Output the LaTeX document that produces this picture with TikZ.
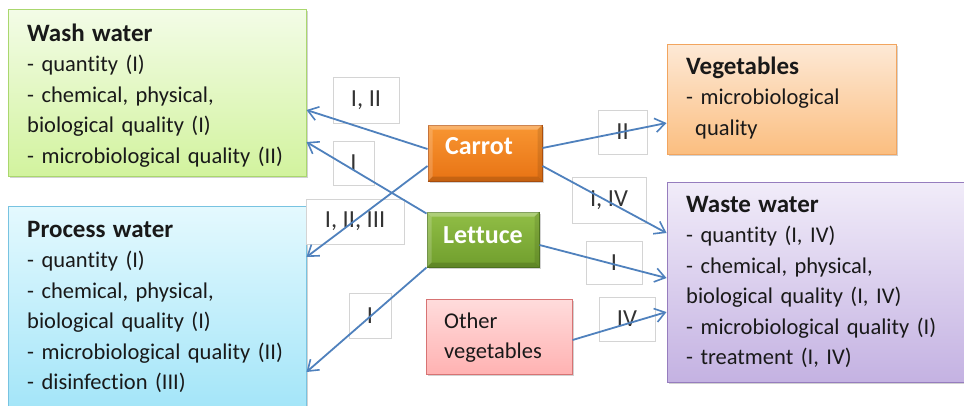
\documentclass[tikz,border=0pt]{standalone}
\usepackage{fontspec}
\setmainfont{Carlito}[Ligatures={NoCommon}]
\usetikzlibrary{arrows.meta,shadows}
\definecolor{arrowblue}{RGB}{79,129,189}
\definecolor{washtop}{RGB}{243,252,231}
\definecolor{washbot}{RGB}{210,243,158}
\definecolor{washline}{RGB}{170,215,110}
\definecolor{proctop}{RGB}{228,249,254}
\definecolor{procbot}{RGB}{160,228,248}
\definecolor{procline}{RGB}{120,195,225}
\definecolor{vegtop}{RGB}{253,233,214}
\definecolor{vegbot}{RGB}{251,190,128}
\definecolor{vegline}{RGB}{242,165,95}
\definecolor{wastetop}{RGB}{241,236,249}
\definecolor{wastebot}{RGB}{196,178,226}
\definecolor{wasteline}{RGB}{150,125,190}
\definecolor{carrottop}{RGB}{248,150,50}
\definecolor{carrotbot}{RGB}{232,115,20}
\definecolor{carrotline}{RGB}{185,85,15}
\definecolor{lettop}{RGB}{145,190,70}
\definecolor{letbot}{RGB}{112,158,45}
\definecolor{letline}{RGB}{85,125,35}
\definecolor{othtop}{RGB}{255,220,220}
\definecolor{othbot}{RGB}{255,178,178}
\definecolor{othline}{RGB}{215,115,115}
\definecolor{chipline}{RGB}{212,212,212}
\definecolor{txt}{RGB}{25,25,25}
\newcommand{\bevelbox}[2]{%
  \fill[white, opacity=0.28] (#1.north west) -- (#1.north east)
    -- ([xshift=-#2,yshift=-#2]#1.north east) -- ([xshift=#2,yshift=-#2]#1.north west) -- cycle;
  \fill[white, opacity=0.18] (#1.north west) -- ([xshift=#2,yshift=-#2]#1.north west)
    -- ([xshift=#2,yshift=#2]#1.south west) -- (#1.south west) -- cycle;
  \fill[black, opacity=0.15] (#1.south west) -- (#1.south east)
    -- ([xshift=-#2,yshift=#2]#1.south east) -- ([xshift=#2,yshift=#2]#1.south west) -- cycle;
  \fill[black, opacity=0.10] (#1.north east) -- ([xshift=-#2,yshift=-#2]#1.north east)
    -- ([xshift=-#2,yshift=#2]#1.south east) -- (#1.south east) -- cycle;
}
\begin{document}
\begin{tikzpicture}[x=1pt,y=-1pt,
  panel/.style={rectangle, inner sep=0pt, line width=1pt,
    drop shadow={shadow xshift=1.5pt, shadow yshift=-1.5pt, opacity=0.35}},
  paneltext/.style={inner sep=0pt, anchor=base west, align=left, text width=290pt,
    text=txt, font=\fontsize{22.5}{30.5}\selectfont},
  ttl/.style={font=\bfseries\fontsize{25}{30}\selectfont},
  veg/.style={rectangle, inner sep=0pt, line width=1pt,
    drop shadow={shadow xshift=1.5pt, shadow yshift=-1.5pt, opacity=0.35},
    font=\bfseries\fontsize{26}{28}\selectfont, text=white},
  chip/.style={rectangle, fill=white, draw=chipline, line width=0.8pt, inner sep=0pt,
    text=black!80, font=\fontsize{24.5}{27}\selectfont},
  link/.style={draw=arrowblue, line width=1.8pt,
    -{Straight Barb[length=10pt,width=14pt,line width=1.6pt]}}
]
\useasboundingbox (0,0) rectangle (964,405);
\clip (0,0) rectangle (964,405);
\fill[white] (0,0) rectangle (964,405);

% panels
\node[panel, draw=washline, top color=washtop, bottom color=washbot,
  minimum width=298pt, minimum height=167pt] (wash) at (157,92.5) {};
\node[panel, draw=procline, top color=proctop, bottom color=procbot,
  minimum width=298pt, minimum height=214pt] (process) at (157,313) {};
\node[panel, draw=vegline, top color=vegtop, bottom color=vegbot,
  minimum width=229pt, minimum height=110pt] (vegs) at (781.5,99) {};
\node[panel, draw=wasteline, top color=wastetop, bottom color=wastebot,
  minimum width=308pt, minimum height=200pt] (waste) at (821,282) {};

\node[paneltext] (washtxt) at (27,41) {{\bfseries\fontsize{25}{30.5}\selectfont Wash water}\\- quantity (I)\\- chemical, physical,\\biological quality (I)\\- microbiological quality (II)};
\node[paneltext] (proctxt) at (27,237) {{\bfseries\fontsize{25}{30.5}\selectfont Process water}\\- quantity (I)\\- chemical, physical,\\biological quality (I)\\- microbiological quality (II)\\- disinfection (III)};
\node[paneltext] (vegtxt) at (686,74) {{\bfseries\fontsize{25}{30.5}\selectfont Vegetables}\\- microbiological\\\hspace*{9pt}quality};
\node[paneltext] (wastetxt) at (686,212) {{\bfseries\fontsize{25}{30.5}\selectfont Waste water}\\- quantity (I, IV)\\- chemical, physical,\\biological quality (I, IV)\\- microbiological quality (I)\\- treatment (I, IV)};

% label chips
\node[chip, minimum width=66pt, minimum height=46pt] (l1) at (366,100) {I, II};
\node[chip, minimum width=41pt, minimum height=44pt] (l2) at (353.5,163) {I};
\node[chip, minimum width=98pt, minimum height=45pt] (l3) at (355,221.5) {I, II, III};
\node[chip, minimum width=42pt, minimum height=45pt] (l4) at (370,315.5) {I};
\node[chip, minimum width=49pt, minimum height=44pt] (l5) at (622.5,132) {II};
\node[chip, minimum width=74pt, minimum height=46pt] (l6) at (609,200) {I, IV};
\node[chip, minimum width=56pt, minimum height=43pt] (l7) at (614,262.5) {I};
\node[chip, minimum width=56pt, minimum height=44pt] (l8) at (627,319) {IV};

% vegetables
\node[veg, draw=carrotline, top color=carrottop, bottom color=carrotbot,
  minimum width=114pt, minimum height=56pt] (carrot) at (485,153) {};
\node[veg, draw=letline, top color=lettop, bottom color=letbot,
  minimum width=112pt, minimum height=55pt] (lettuce) at (483,239.5) {};
\bevelbox{carrot}{5pt}
\bevelbox{lettuce}{5pt}
\node[font=\bfseries\fontsize{26}{28}\selectfont, text=white, inner sep=0pt, anchor=base]
  (carrottxt) at (479,154) {Carrot};
\node[font=\bfseries\fontsize{26}{28}\selectfont, text=white, inner sep=0pt, anchor=base]
  (lettucetxt) at (483,243) {Lettuce};
\node[panel, draw=othline, top color=othtop, bottom color=othbot,
  minimum width=146pt, minimum height=75pt] (other) at (499,336.5) {};
\node[paneltext, text width=120pt] (othertxt) at (444,328) {Other\\vegetables};

% connectors
\draw[link] ([yshift=4pt]carrot.west) -- ([yshift=-17.5pt]wash.east);
\draw[link] ([yshift=-2pt]lettuce.north west) -- ([yshift=-49.5pt]wash.east);
\draw[link] ([yshift=-13pt]carrot.west) -- ([yshift=56pt]process.east);
\draw[link] (lettuce.south west) -- ([yshift=-59pt]process.east);
\draw[link] ([yshift=5pt]carrot.east) -- ([yshift=-24pt]vegs.west);
\draw[link] ([yshift=-13pt]carrot.east) -- ([yshift=49pt]waste.west);
\draw[link] ([yshift=-5.5pt]lettuce.east) -- ([yshift=4pt]waste.west);
\draw[link] ([yshift=-3.5pt]other.east) -- ([yshift=-30pt]waste.west);
\end{tikzpicture}
\end{document}
